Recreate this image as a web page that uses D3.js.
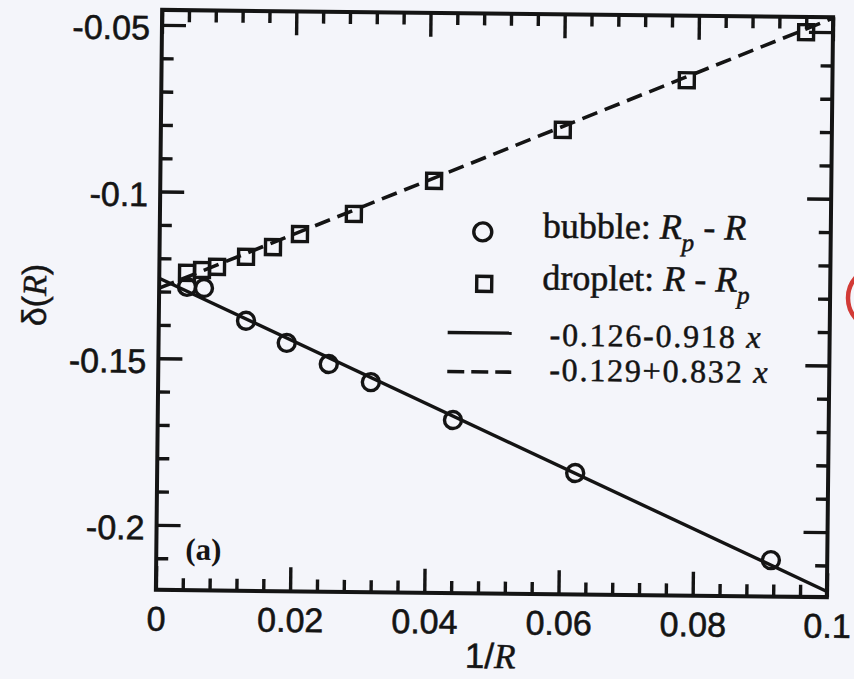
<!DOCTYPE html>
<html>
<head>
<meta charset="utf-8">
<script src="https://cdn.jsdelivr.net/npm/d3@7"></script>
<style>
  html, body { margin: 0; padding: 0; background: #f4f5fa; }
  svg { display: block; }
</style>
</head>
<body>
<svg id="chart" width="854" height="679"></svg>
<script>
// Bubble data: delta(R) = R_p - R versus 1/R
const bubbleX = [0.00415, 0.00668, 0.0130, 0.0191, 0.0254, 0.0317, 0.0440, 0.0623, 0.0916];
const bubbleY = [-0.1285, -0.1288, -0.1385, -0.1450, -0.1512, -0.1565, -0.1676, -0.1831, -0.2086];

// Droplet data: delta(R) = R - R_p versus 1/R
const dropletX = [0.00413, 0.00636, 0.00859, 0.0129, 0.0169, 0.0209, 0.0289, 0.0408, 0.0599, 0.0783, 0.0960];
const dropletY = [-0.1243, -0.1234, -0.1224, -0.1193, -0.1163, -0.1123, -0.1061, -0.0959, -0.0802, -0.0649, -0.0501];

// Linear fits: intercept + slope * x
const bubbleFit = [-0.126, -0.918];
const dropletFit = [-0.129, 0.832];
const fitRange = [0, 0.1];

// Axis ticks
const xMajor = [0, 0.02, 0.04, 0.06, 0.08, 0.1];
const xLabels = ["0", "0.02", "0.04", "0.06", "0.08", "0.1"];
const yMajor = [-0.2, -0.15, -0.1, -0.05];
const yLabels = ["-0.2", "-0.15", "-0.1", "-0.05"];

const INK = "#141414";
const SANS = "'Liberation Sans', Arial, Helvetica, sans-serif";
const SERIF = "'Liberation Serif', 'Times New Roman', serif";

const X0 = 159, X1 = 830, Y0 = 13.5, Y1 = 593.5;
const x = d3.scaleLinear().domain([0, 0.1]).range([X0, X1]);
const y = d3.scaleLinear().domain([-0.2195, -0.0455]).range([Y1, Y0]);

const xMinor = d3.range(1, 25).map(i => i * 0.004).filter(v => Math.abs(v / 0.02 - Math.round(v / 0.02)) > 1e-6);
const yMinor = d3.range(-21, -4).map(i => i * 0.01).filter(v => Math.abs(v / 0.05 - Math.round(v / 0.05)) > 1e-6);

const svg = d3.select("#chart");
svg.append("rect").attr("width", 854).attr("height", 679).attr("fill", "#f4f5fa");

// red edge of the neighbouring figure's mark at the right margin
svg.append("circle").attr("cx", 879).attr("cy", 298).attr("r", 31)
  .attr("fill", "none").attr("stroke", "#d23a36").attr("stroke-width", 4.5);

// the whole figure sits slightly tilted on the page
const g = svg.append("g").attr("transform", "rotate(0.62,494.5,303.5)");

g.append("defs").append("clipPath").attr("id", "plotClip")
  .append("rect").attr("x", X0).attr("y", Y0).attr("width", X1 - X0).attr("height", Y1 - Y0);

function styleAxis(sel) {
  sel.select(".domain").remove();
  sel.selectAll(".tick line").attr("stroke", INK).attr("stroke-width", 3.4);
  sel.selectAll(".tick text").attr("fill", INK).attr("stroke", INK).attr("stroke-width", 0.6)
    .style("font-family", SANS).style("font-size", "34px");
}

// bottom axis with labels
g.append("g").attr("transform", `translate(0,${Y1})`)
  .call(d3.axisBottom(x).tickValues(xMajor).tickFormat((d, i) => xLabels[i])
    .tickSize(-24).tickSizeOuter(0).tickPadding(16.5))
  .call(styleAxis);
g.append("g").attr("transform", `translate(0,${Y1})`)
  .call(d3.axisBottom(x).tickValues(xMinor).tickFormat("").tickSize(-12).tickSizeOuter(0))
  .call(styleAxis);
// top axis
g.append("g").attr("transform", `translate(0,${Y0})`)
  .call(d3.axisTop(x).tickValues(xMajor).tickFormat("").tickSize(-24).tickSizeOuter(0))
  .call(styleAxis);
g.append("g").attr("transform", `translate(0,${Y0})`)
  .call(d3.axisTop(x).tickValues(xMinor).tickFormat("").tickSize(-12).tickSizeOuter(0))
  .call(styleAxis);
// left axis with labels
g.append("g").attr("transform", `translate(${X0},0)`)
  .call(d3.axisLeft(y).tickValues(yMajor).tickFormat((d, i) => yLabels[i])
    .tickSize(-24).tickSizeOuter(0).tickPadding(12))
  .call(styleAxis)
  .call(s => s.selectAll(".tick text").attr("dy", "0.42em"));
g.append("g").attr("transform", `translate(${X0},0)`)
  .call(d3.axisLeft(y).tickValues(yMinor).tickFormat("").tickSize(-12).tickSizeOuter(0))
  .call(styleAxis);
// right axis
g.append("g").attr("transform", `translate(${X1},0)`)
  .call(d3.axisRight(y).tickValues(yMajor).tickFormat("").tickSize(-24).tickSizeOuter(0))
  .call(styleAxis);
g.append("g").attr("transform", `translate(${X1},0)`)
  .call(d3.axisRight(y).tickValues(yMinor).tickFormat("").tickSize(-12).tickSizeOuter(0))
  .call(styleAxis);

// frame
g.append("rect").attr("x", X0).attr("y", Y0).attr("width", X1 - X0).attr("height", Y1 - Y0)
  .attr("fill", "none").attr("stroke", INK).attr("stroke-width", 4);

// fitted lines
const line = d3.line().x(d => x(d[0])).y(d => y(d[1]));
const plotArea = g.append("g").attr("clip-path", "url(#plotClip)");
plotArea.append("path")
  .attr("d", line(fitRange.map(v => [v, bubbleFit[0] + bubbleFit[1] * v])))
  .attr("fill", "none").attr("stroke", INK).attr("stroke-width", 3.4);
plotArea.append("path")
  .attr("d", line(fitRange.map(v => [v, dropletFit[0] + dropletFit[1] * v])))
  .attr("fill", "none").attr("stroke", INK).attr("stroke-width", 3.6)
  .attr("stroke-dasharray", "16,8");

// markers
const SQ = 15;
g.append("g").selectAll("rect").data(dropletX.map((v, i) => [v, dropletY[i]])).join("rect")
  .attr("x", d => x(d[0]) - SQ / 2).attr("y", d => y(d[1]) - SQ / 2)
  .attr("width", SQ).attr("height", SQ)
  .attr("fill", "none").attr("stroke", INK).attr("stroke-width", 3.4);
g.append("g").selectAll("circle").data(bubbleX.map((v, i) => [v, bubbleY[i]])).join("circle")
  .attr("cx", d => x(d[0])).attr("cy", d => y(d[1])).attr("r", 8.5)
  .attr("fill", "none").attr("stroke", INK).attr("stroke-width", 3.4);

// legend
const leg = g.append("g").style("font-family", SERIF).attr("fill", INK)
  .attr("stroke", INK).attr("stroke-width", 0.5);
leg.append("circle").attr("cx", 482).attr("cy", 232).attr("r", 9)
  .attr("fill", "none").attr("stroke", INK).attr("stroke-width", 3.4);
const t1 = leg.append("text").attr("x", 542).attr("y", 237).style("font-size", "36px");
t1.append("tspan").text("bubble: ");
t1.append("tspan").style("font-style", "italic").text("R");
t1.append("tspan").style("font-style", "italic").style("font-size", "25px").attr("dy", 12).text("p");
t1.append("tspan").attr("dy", -12).text(" - ");
t1.append("tspan").style("font-style", "italic").text("R");

leg.append("rect").attr("x", 484 - SQ / 2).attr("y", 284 - SQ / 2).attr("width", SQ).attr("height", SQ)
  .attr("fill", "none").attr("stroke", INK).attr("stroke-width", 3.4);
const t2 = leg.append("text").attr("x", 542).attr("y", 289).style("font-size", "36px");
t2.append("tspan").text("droplet: ");
t2.append("tspan").style("font-style", "italic").text("R");
t2.append("tspan").text(" - ");
t2.append("tspan").style("font-style", "italic").text("R");
t2.append("tspan").style("font-style", "italic").style("font-size", "25px").attr("dy", 12).text("p");

leg.append("line").attr("x1", 448).attr("x2", 512).attr("y1", 333).attr("y2", 333)
  .attr("stroke", INK).attr("stroke-width", 3.4);
const t3 = leg.append("text").attr("x", 550).attr("y", 345)
  .style("font-size", "32px").style("letter-spacing", "1.8px");
t3.append("tspan").text(`${bubbleFit[0]}${bubbleFit[1]} `);
t3.append("tspan").style("font-style", "italic").text("x");

leg.append("line").attr("x1", 448).attr("x2", 512).attr("y1", 372).attr("y2", 372)
  .attr("stroke", INK).attr("stroke-width", 3.6).attr("stroke-dasharray", "17,7");
const t4 = leg.append("text").attr("x", 550).attr("y", 380)
  .style("font-size", "32px").style("letter-spacing", "1.8px");
t4.append("tspan").text(`${dropletFit[0]}+${dropletFit[1]} `);
t4.append("tspan").style("font-style", "italic").text("x");

// panel tag
g.append("text").attr("x", 188).attr("y", 563)
  .style("font-family", SERIF).style("font-size", "31px").style("font-weight", "bold")
  .attr("fill", INK).text("(a)");

// axis titles
const xt = g.append("text").attr("x", 494).attr("y", 668).attr("text-anchor", "middle")
  .attr("fill", INK).attr("stroke", INK).attr("stroke-width", 0.5).style("font-size", "35px");
xt.append("tspan").style("font-family", SANS).text("1/");
xt.append("tspan").style("font-family", SERIF).style("font-style", "italic").text("R");

const yt = g.append("text").attr("transform", "translate(46,300) rotate(-90)").attr("text-anchor", "middle")
  .attr("fill", INK).attr("stroke", INK).attr("stroke-width", 0.4).style("font-size", "34px");
yt.append("tspan").style("font-family", SANS).text("δ(");
yt.append("tspan").style("font-family", SERIF).style("font-style", "italic").text("R");
yt.append("tspan").style("font-family", SANS).text(")");
</script>
</body>
</html>
